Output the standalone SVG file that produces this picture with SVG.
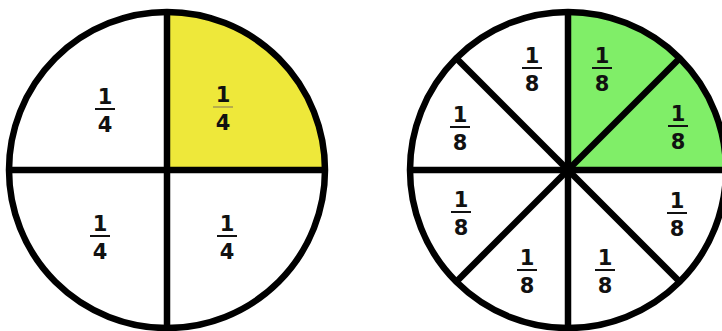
<svg xmlns="http://www.w3.org/2000/svg" width="722" height="331" viewBox="0 0 722 331">
<style>
.rim{fill:none;stroke:#000;stroke-width:6.5}
.div{stroke:#000;stroke-width:6.5;stroke-linecap:butt}
.num{font-family:"DejaVu Sans","Verdana",sans-serif;font-weight:bold;font-size:21px;fill:#111;text-anchor:middle}
.bar{stroke:#111;stroke-width:2}
.barf{stroke:#b8ad4a;stroke-width:2}
</style>
<defs>
<g id="f4"><line class="bar" x1="-10" y1="0" x2="10" y2="0"/><text class="num" x="0" y="-5">1</text><text class="num" x="0" y="23">4</text></g>
<g id="f8"><line class="bar" x1="-10" y1="0" x2="10" y2="0"/><text class="num" x="0" y="-5">1</text><text class="num" x="0" y="23">8</text></g>
</defs>
<rect width="722" height="331" fill="#fff"/>
<g id="circle-quarters">
<circle cx="167" cy="170" r="158" fill="#fff"/>
<path d="M167,170 L167,12 A158,158 0 0 1 325,170 Z" fill="#eee83a"/>
<line class="div" x1="167" y1="12" x2="167" y2="328"/>
<line class="div" x1="9" y1="170" x2="325" y2="170"/>
<circle class="rim" cx="167" cy="170" r="158"/>
</g>
<g id="circle-eighths">
<circle cx="568" cy="170" r="158" fill="#fff"/>
<path d="M568,170 L568,12 A158,158 0 0 1 726,170 Z" fill="#80ee68"/>
<line class="div" x1="568" y1="12" x2="568" y2="328"/>
<line class="div" x1="410" y1="170" x2="726" y2="170"/>
<line class="div" x1="456.3" y1="58.3" x2="679.7" y2="281.7"/>
<line class="div" x1="679.7" y1="58.3" x2="456.3" y2="281.7"/>
<circle cx="568" cy="170" r="6" fill="#000"/>
<circle class="rim" cx="568" cy="170" r="158"/>
</g>
<g id="q-tl"><use href="#f4" x="105" y="109"/></g>
<g id="q-tr"><line class="barf" x1="213" y1="107" x2="233" y2="107"/><text class="num" x="223" y="102">1</text><text class="num" x="223" y="130">4</text></g>
<g id="q-bl"><use href="#f4" x="100" y="236"/></g>
<g id="q-br"><use href="#f4" x="227" y="236"/></g>
<g id="e1"><use href="#f8" x="532" y="68"/></g>
<g id="e2"><use href="#f8" x="602" y="68"/></g>
<g id="e3"><use href="#f8" x="678" y="126"/></g>
<g id="e4"><use href="#f8" x="677" y="213"/></g>
<g id="e5"><use href="#f8" x="605" y="270"/></g>
<g id="e6"><use href="#f8" x="527" y="270"/></g>
<g id="e7"><use href="#f8" x="461" y="212"/></g>
<g id="e8"><use href="#f8" x="460" y="127"/></g>
</svg>
